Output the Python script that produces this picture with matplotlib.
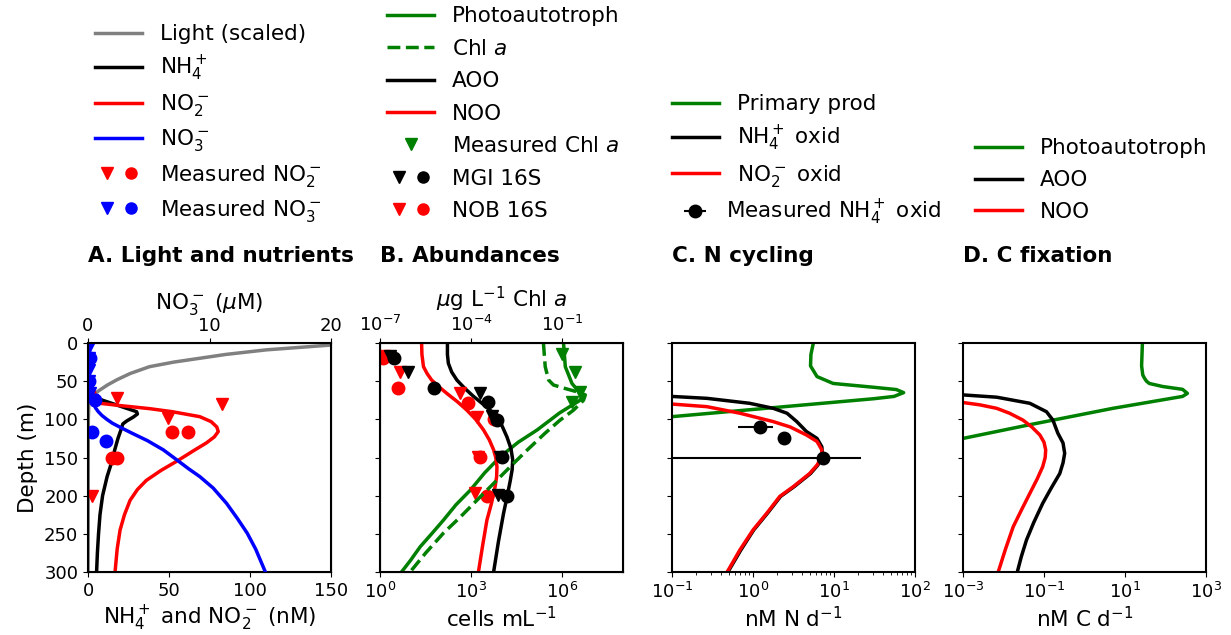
import matplotlib
matplotlib.use("Agg")
import matplotlib.pyplot as plt
from matplotlib.lines import Line2D
from matplotlib.legend_handler import HandlerTuple
from matplotlib.ticker import FixedLocator, NullLocator, LogFormatterMathtext

# ---------------- Panel A: light and nutrients ----------------
light_depth = [0, 3, 9, 15, 20, 25, 31, 40, 48, 55, 62, 70, 80, 100, 300]
light_val = [165, 148, 110, 85, 69, 53, 38, 26, 18, 12, 7, 2, 0.5, 0.2, 0]

nh4_depth = [0, 40, 68, 70, 75, 80, 85, 90, 93, 97, 102, 106, 114, 125, 140, 155,
             175, 200, 225, 250, 275, 300]
nh4_val = [0.3, 0.4, 1, 3.3, 9, 16, 23, 30, 30.5, 28, 24, 21.5, 20.3, 18.5, 16.5,
           14.8, 11.8, 9, 7.4, 6.5, 5.8, 5.3]

no2_depth = [0, 60, 70, 75, 79, 82, 86, 90, 96.5, 103, 110, 116, 123, 131, 140,
             155, 167, 180, 192, 206, 225, 245, 270, 300]
no2_val = [0.3, 0.5, 2, 4, 7.4, 20, 38, 52, 69, 76, 79.5, 80.4, 78, 73, 66,
           54.7, 45, 36, 30.5, 26, 22.5, 19.8, 18, 16.7]

no3_depth = [0, 20, 40, 60, 70, 75, 80, 85, 90, 95, 100, 105, 110, 118, 128, 140,
             153, 165, 175, 190, 210, 230, 249, 270, 300]
no3_val = [0.05, 0.08, 0.1, 0.15, 0.25, 0.33, 0.45, 0.62, 0.85, 1.15, 1.55, 2.0,
           2.6, 3.6, 4.9, 6.2, 7.3, 8.3, 9.2, 10.3, 11.4, 12.3, 13.1, 13.8, 14.6]

meas_no2_tri_depth = [72, 80, 98, 200]
meas_no2_tri_val = [18, 83, 49.5, 2.3]
meas_no2_circ_depth = [65, 116, 116, 150, 150]
meas_no2_circ_val = [0.5, 52, 61.5, 15, 18]

meas_no3_tri_depth = [5, 20, 35, 50, 65, 75]
meas_no3_tri_val = [0.1, 0.12, 0.1, 0.1, 0.15, 0.3]
meas_no3_circ_depth = [20, 50, 75, 116, 129]
meas_no3_circ_val = [0.15, 0.12, 0.6, 0.3, 1.45]

# ---------------- Panel B: abundances ----------------
noo_b_depth = [0, 15, 31, 40, 48.5, 57, 66, 77, 88, 100, 114, 127, 140, 150, 162,
               175, 188, 210, 232, 265, 300]
noo_b_val = [23.4, 24, 27, 35.5, 50, 85, 158, 355, 724, 1410, 2570, 3980, 5500,
             6460, 7080, 6920, 6170, 4680, 3310, 2400, 1740]

aoo_b_depth = [0, 15, 26.6, 38, 48.5, 59, 70, 81, 92, 107, 123, 138, 153, 166, 180,
               200, 223, 260, 300]
aoo_b_val = [166, 166, 178, 229, 339, 603, 1200, 2630, 5500, 10000, 15100, 20400,
             23400, 22400, 19500, 15500, 11700, 7940, 5500]

photo_b_depth = [0, 31, 53, 66, 72, 76, 83, 92, 101, 114, 130, 149, 170, 193, 212,
                 232, 250, 267, 285, 300]
photo_b_val = [1.1e6, 1.26e6, 2.09e6, 3.89e6, 4.47e6, 3.55e6, 1.82e6, 7.9e5, 4.0e5,
               1.48e5, 3.55e4, 9.1e3, 2.8e3, 930, 316, 123, 50, 21, 10, 5.1]

chl_depth = [0, 31, 48.5, 55, 59, 64, 68, 75, 88, 101, 118, 140, 162, 184, 206, 228,
             249, 275, 300]
chl_val = [0.024, 0.0275, 0.0355, 0.0513, 0.11, 0.309, 0.575, 0.5, 0.234, 0.085,
           0.0275, 7.1e-3, 1.95e-3, 5.5e-4, 1.55e-4, 4.4e-5, 1.23e-5, 3.2e-6, 9.8e-7]

meas_chl_depth = [15, 38, 64, 77]
meas_chl_val = [0.098, 0.27, 0.39, 0.21]

mgi_tri_depth = [17, 38, 66, 96, 149, 199]
mgi_tri_val = [2.1, 8.5, 2000, 4800, 9100, 7900]
mgi_circ_depth = [20, 59, 77, 101, 149, 200]
mgi_circ_val = [2.8, 58, 3700, 7100, 10200, 15100]
nob_tri_depth = [17, 38, 66, 97, 149, 197]
nob_tri_val = [1.4, 4.6, 437, 1550, 1740, 1350]
nob_circ_depth = [20, 59, 79, 100, 149, 200]
nob_circ_val = [1.26, 4.0, 813, 5500, 2000, 3300]

# ---------------- Panel C: N cycling ----------------
pp_depth = [0, 15, 30, 44, 53, 58, 61, 65, 70, 73, 96.5, 110]
pp_val = [5.56, 5.19, 5.13, 6.17, 9.77, 30.9, 58.9, 72.4, 55, 30.9, 0.1, 0.004]

nh4ox_depth = [0, 60, 68, 70, 72.5, 79, 85.6, 92, 103, 116, 125, 136, 149, 160, 171,
               188, 201, 223, 245, 271, 300]
nh4ox_val = [1e-4, 0.01, 0.05, 0.1, 0.27, 0.91, 1.78, 2.63, 3.47, 4.57, 6.17, 7.08,
             7.24, 6.31, 5.13, 3.24, 2.19, 1.51, 1.02, 0.71, 0.49]

no2ox_depth = [0, 60, 75, 80, 83.4, 92, 103, 110, 120.5, 129, 140, 149, 160, 171,
               188, 201, 223, 245, 271, 300]
no2ox_val = [1e-4, 0.01, 0.04, 0.1, 0.27, 0.69, 1.78, 2.88, 4.57, 6.17, 7.08, 7.08,
             6.17, 5.0, 3.16, 2.14, 1.48, 1.0, 0.69, 0.48]

meas_ox_depth = [110, 125, 150]
meas_ox_val = [1.22, 2.44, 7.25]
meas_ox_err = [0.56, 0.2, 14.2]

# ---------------- Panel D: C fixation ----------------
photo_d_depth = [0, 30, 42, 46, 50, 53, 57, 60.7, 66, 70, 85.6, 107, 125, 135]
photo_d_val = [26.9, 25.7, 27.5, 30.2, 33.9, 39.8, 85, 263, 347, 263, 5.0, 0.045,
               0.001, 1e-4]

aoo_d_depth = [0, 60, 68, 71, 79, 90, 101, 118, 131, 144.5, 157, 171, 190, 210, 235,
               258, 280, 300]
aoo_d_val = [1e-6, 1e-4, 1e-3, 6.8e-3, 0.0447, 0.115, 0.166, 0.219, 0.295, 0.324,
             0.295, 0.245, 0.151, 0.093, 0.056, 0.037, 0.0275, 0.0219]

noo_d_depth = [0, 60, 78, 81, 85.6, 92, 101, 110, 120.5, 130, 140, 150, 162, 178,
               197, 218, 240.6, 270, 300]
noo_d_val = [1e-6, 1e-4, 1e-3, 2.6e-3, 6.8e-3, 0.0141, 0.0302, 0.05, 0.079, 0.1,
             0.11, 0.107, 0.093, 0.068, 0.0447, 0.0282, 0.0174, 0.0112, 0.0074]

LW = 2.5
MS = 9
TICK = 13
LAB = 15.5
LEG = 15.5

fig = plt.figure(figsize=(12.31, 6.35), dpi=100)
W, H = 1231, 635
lefts = [88, 380, 672, 963]
bottom = 1 - 572 / H
height = (572 - 343) / H
width = 243 / W
axes = [fig.add_axes([l / W, bottom, width, height]) for l in lefts]
axA, axB, axC, axD = axes

for ax in axes:
    ax.set_ylim(300, 0)
    ax.yaxis.set_major_locator(FixedLocator([0, 50, 100, 150, 200, 250, 300]))
    ax.tick_params(labelsize=TICK)
    for s in ax.spines.values():
        s.set_linewidth(1.5)
for ax in axes[1:]:
    ax.tick_params(axis="y", labelleft=False)

# ---- A ----
axA.plot(light_val, light_depth, color="grey", lw=LW)
axA.plot(nh4_val, nh4_depth, color="black", lw=LW)
axA.plot(no2_val, no2_depth, color="red", lw=LW)
axA.plot(meas_no2_tri_val, meas_no2_tri_depth, "v", color="red", ms=MS, ls="none")
axA.plot(meas_no2_circ_val, meas_no2_circ_depth, "o", color="red", ms=MS, ls="none")
axA.set_xlim(0, 150)
axA.set_xticks([0, 50, 100, 150])
axA.set_xlabel(r"NH$_4^+$ and NO$_2^-$ (nM)", fontsize=LAB, labelpad=3)
axA.set_ylabel("Depth (m)", fontsize=LAB)
axA2 = axA.twiny()
axA2.plot(no3_val, no3_depth, color="blue", lw=LW)
axA2.plot(meas_no3_tri_val, meas_no3_tri_depth, "v", color="blue", ms=MS, ls="none")
axA2.plot(meas_no3_circ_val, meas_no3_circ_depth, "o", color="blue", ms=MS, ls="none")
axA2.set_xlim(0, 20)
axA2.set_xticks([0, 10, 20])
axA2.set_ylim(300, 0)
axA2.tick_params(labelsize=TICK, pad=2)
axA2.set_xlabel(r"NO$_3^-$ ($\mu$M)", fontsize=LAB, labelpad=6)

# ---- B ----
axB.plot(photo_b_val, photo_b_depth, color="green", lw=LW)
axB.plot(aoo_b_val, aoo_b_depth, color="black", lw=LW)
axB.plot(noo_b_val, noo_b_depth, color="red", lw=LW)
axB.plot(nob_tri_val, nob_tri_depth, "v", color="red", ms=MS, ls="none")
axB.plot(nob_circ_val, nob_circ_depth, "o", color="red", ms=MS, ls="none")
axB.plot(mgi_tri_val, mgi_tri_depth, "v", color="black", ms=MS, ls="none")
axB.plot(mgi_circ_val, mgi_circ_depth, "o", color="black", ms=MS, ls="none")
axB.set_xscale("log")
axB.set_xlim(1, 1e8)
axB.xaxis.set_major_locator(FixedLocator([1, 1e3, 1e6]))
axB.xaxis.set_major_formatter(LogFormatterMathtext())
axB.xaxis.set_minor_locator(NullLocator())
axB.set_xlabel(r"cells mL$^{-1}$", fontsize=LAB, labelpad=3)
axB2 = axB.twiny()
axB2.plot(chl_val, chl_depth, color="green", lw=LW, ls="--")
axB2.plot(meas_chl_val, meas_chl_depth, "v", color="green", ms=MS, ls="none")
axB2.set_xscale("log")
axB2.set_xlim(1e-7, 10)
axB2.xaxis.set_major_locator(FixedLocator([1e-7, 1e-4, 1e-1]))
axB2.xaxis.set_major_formatter(LogFormatterMathtext())
axB2.xaxis.set_minor_locator(NullLocator())
axB2.set_ylim(300, 0)
axB2.tick_params(labelsize=TICK, pad=2)
axB2.set_xlabel(r"$\mu$g L$^{-1}$ Chl $a$", fontsize=LAB, labelpad=6)

# ---- C ----
axC.plot(pp_val, pp_depth, color="green", lw=LW)
axC.plot(nh4ox_val, nh4ox_depth, color="black", lw=LW)
axC.plot(no2ox_val, no2ox_depth, color="red", lw=LW)
eb = axC.errorbar(meas_ox_val, meas_ox_depth, xerr=meas_ox_err, fmt="o",
                  color="black", ms=MS, elinewidth=1.5, capsize=0)
axC.set_xscale("log")
axC.set_xlim(0.1, 100)
axC.set_xlabel(r"nM N d$^{-1}$", fontsize=LAB, labelpad=3)

# ---- D ----
axD.plot(photo_d_val, photo_d_depth, color="green", lw=LW)
axD.plot(aoo_d_val, aoo_d_depth, color="black", lw=LW)
axD.plot(noo_d_val, noo_d_depth, color="red", lw=LW)
axD.set_xscale("log")
axD.set_xlim(1e-3, 1e3)
axD.xaxis.set_major_locator(FixedLocator([1e-3, 1e-1, 1e1, 1e3]))
axD.xaxis.set_major_formatter(LogFormatterMathtext())
axD.xaxis.set_minor_locator(NullLocator())
axD.set_xlabel(r"nM C d$^{-1}$", fontsize=LAB, labelpad=3)

# ---- titles ----
titles = ["A. Light and nutrients", "B. Abundances", "C. N cycling", "D. C fixation"]
for l, t in zip(lefts, titles):
    fig.text(l / W, 1 - 256 / H, t, fontsize=15.5, fontweight="bold",
             ha="left", va="center")

# ---- legends ----
def ln(c, ls="-"):
    return Line2D([], [], color=c, lw=LW, ls=ls)

def mk(c, m):
    return Line2D([], [], color=c, marker=m, ls="none", ms=8)

def leg(handles, labels, x, y, spacing=0.5, hl=2.2):
    return fig.legend(handles, labels, bbox_to_anchor=(x / W, 1 - y / H),
                      loc="lower left", frameon=False, fontsize=LEG,
                      borderpad=0, borderaxespad=0, handlelength=hl,
                      labelspacing=spacing,
                      handler_map={tuple: HandlerTuple(ndivide=None)})

leg([ln("grey"), ln("black"), ln("red"), ln("blue"),
     (mk("red", "v"), mk("red", "o")), (mk("blue", "v"), mk("blue", "o"))],
    ["Light (scaled)", r"NH$_4^+$", r"NO$_2^-$", r"NO$_3^-$",
     r"Measured NO$_2^-$", r"Measured NO$_3^-$"],
    95, 224, spacing=0.43)

leg([ln("green"), ln("green", "--"), ln("black"), ln("red"), mk("green", "v"),
     (mk("black", "v"), mk("black", "o")), (mk("red", "v"), mk("red", "o"))],
    ["Photoautotroph", r"Chl $a$", "AOO", "NOO", r"Measured Chl $a$",
     "MGI 16S", "NOB 16S"],
    387, 221, spacing=0.58)

leg([ln("green"), ln("black"), ln("red")],
    ["Primary prod", r"NH$_4^+$ oxid", r"NO$_2^-$ oxid"],
    672, 189, spacing=0.45)

leg([eb], [r"Measured NH$_4^+$ oxid"], 681, 227, hl=1.28)

leg([ln("green"), ln("black"), ln("red")],
    ["Photoautotroph", "AOO", "NOO"],
    975, 222, spacing=0.55)

fig.savefig("out.png", dpi=100)
